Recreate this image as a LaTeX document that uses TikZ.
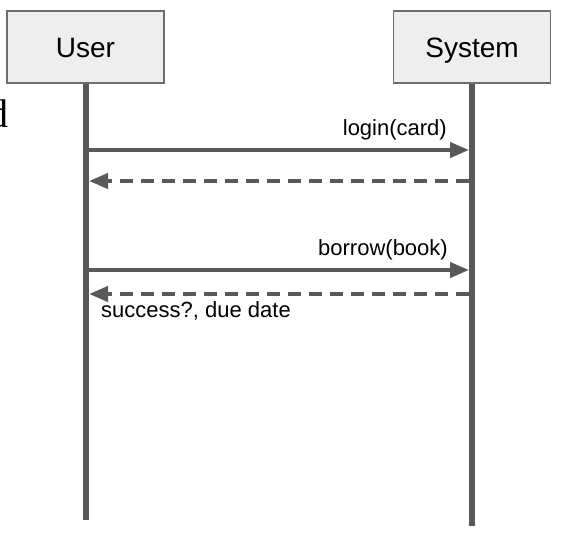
\documentclass[tikz,border=0pt]{standalone}
\usepackage{fontspec}
\setmainfont{Liberation Sans}
\newfontfamily\serifd{Liberation Serif}
\usetikzlibrary{arrows.meta}
\definecolor{lineg}{HTML}{595959}
\definecolor{boxfill}{HTML}{EEEEEE}
\definecolor{boxdraw}{HTML}{6E6E6E}
\tikzset{
  actor/.style={draw=boxdraw, fill=boxfill, line width=1.5pt, minimum width=157pt, minimum height=72pt, inner sep=0pt, text height=21pt, text depth=1pt, font=\fontsize{28}{32}\selectfont},
  lifeline/.style={draw=lineg, line width=6pt},
  msg/.style={draw=lineg, line width=4pt, -{Triangle[length=19pt,width=15pt]}},
  ret/.style={msg, dash pattern=on 13pt off 8pt},
  lbl/.style={font=\fontsize{22}{26}\selectfont, inner sep=0pt}
}
\begin{document}
\begin{tikzpicture}[x=1pt,y=-1pt]
\useasboundingbox (0,0) rectangle (564,536);
\begin{scope}
\clip (0,0) rectangle (564,536);
\node[anchor=base east, inner sep=0pt, font=\serifd\fontsize{40}{44}\selectfont] (frag) at (9,127) {d};
\end{scope}
\node[actor] (user) at (85.5,47) {User};
\node[actor] (sys) at (472,47) {System};
\coordinate (ue) at (86,520);
\coordinate (se) at (472,526);
\draw[lifeline] (user.south -| ue) -- (ue);
\draw[lifeline] (sys.south -| se) -- (se);
\coordinate (u1) at (86,150); \coordinate (s1) at (469,150);
\coordinate (s2) at (469,181); \coordinate (u2) at (89,181);
\coordinate (u3) at (86,270); \coordinate (s3) at (469,270);
\coordinate (s4) at (469,294); \coordinate (u4) at (89,294);
\draw[msg] (u1) -- (s1);
\draw[ret] (s2) -- (u2);
\draw[msg] (u3) -- (s3);
\draw[ret] (s4) -- (u4);
\node[lbl, anchor=base east] (l1) at (447,135) {login(card)};
\node[lbl, anchor=base east] (l2) at (448,255) {borrow(book)};
\node[lbl, anchor=base west] (l3) at (101,317) {success?, due date};
\end{tikzpicture}
\end{document}
